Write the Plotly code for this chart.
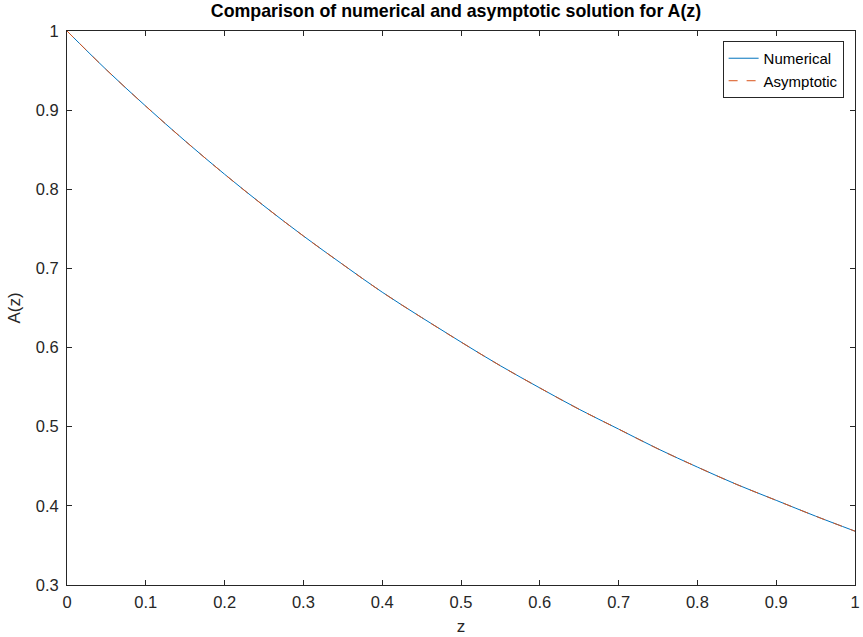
import plotly.graph_objects as go

z = [0.0, 0.05, 0.1, 0.15, 0.2, 0.25, 0.3, 0.35, 0.4, 0.45, 0.5,
     0.55, 0.6, 0.65, 0.7, 0.75, 0.8, 0.85, 0.9, 0.95, 1.0]
numerical = [1.000, 0.951, 0.905, 0.861, 0.819, 0.779, 0.741, 0.705, 0.670, 0.638, 0.607,
             0.577, 0.549, 0.522, 0.497, 0.472, 0.449, 0.427, 0.407, 0.387, 0.368]
asymptotic = [1.000, 0.951, 0.905, 0.861, 0.819, 0.779, 0.741, 0.705, 0.670, 0.638, 0.607,
              0.577, 0.549, 0.522, 0.497, 0.472, 0.449, 0.427, 0.407, 0.387, 0.368]
x_ticks = [0, 0.1, 0.2, 0.3, 0.4, 0.5, 0.6, 0.7, 0.8, 0.9, 1]
x_labels = ["0", "0.1", "0.2", "0.3", "0.4", "0.5", "0.6", "0.7", "0.8", "0.9", "1"]
y_ticks = [0.3, 0.4, 0.5, 0.6, 0.7, 0.8, 0.9, 1]
y_labels = ["0.3", "0.4", "0.5", "0.6", "0.7", "0.8", "0.9", "1"]

FONT = "Liberation Sans, Arial"

fig = go.Figure()
fig.add_trace(go.Scatter(x=z, y=numerical, mode="lines", name="Numerical",
                         line=dict(color="#0072BD", width=1, shape="spline")))
fig.add_trace(go.Scatter(x=z, y=asymptotic, mode="lines", name="Asymptotic",
                         line=dict(color="#D95319", width=1, dash="dash", shape="spline")))

axis_common = dict(showline=True, linecolor="#262626", linewidth=1, mirror="ticks",
                   ticks="inside", ticklen=5, tickcolor="#262626", showgrid=False,
                   zeroline=False, ticklabeloverflow="allow",
                   tickfont=dict(family=FONT, size=16.5, color="#262626"))

fig.update_layout(
    width=863, height=637,
    margin=dict(l=67, r=3, t=31, b=52),
    paper_bgcolor="white", plot_bgcolor="white",
    title=dict(text="<b>Comparison of numerical and asymptotic solution for A(z)</b>",
               x=456 / 863, xref="container", xanchor="center", y=1 - 11 / 637, yanchor="middle",
               font=dict(family=FONT, size=17.8, color="black")),
    xaxis=dict(range=[0, 1], tickvals=x_ticks, ticktext=x_labels,
               ticklabelstandoff=2,
               title=dict(text="z", standoff=10,
                          font=dict(family=FONT, size=17, color="#262626")),
               **axis_common),
    yaxis=dict(range=[0.3, 1], tickvals=y_ticks, ticktext=y_labels,
               ticklabelstandoff=4,
               title=dict(text="A(z)", standoff=10,
                          font=dict(family=FONT, size=17, color="#262626")),
               **axis_common),
    legend=dict(x=0.832, y=0.982, xanchor="left", yanchor="top",
                bgcolor="white", bordercolor="#262626", borderwidth=1,
                font=dict(family=FONT, size=15, color="black"),
                tracegroupgap=0, itemwidth=30),
    showlegend=True,
)

fig.write_html("out.html")
